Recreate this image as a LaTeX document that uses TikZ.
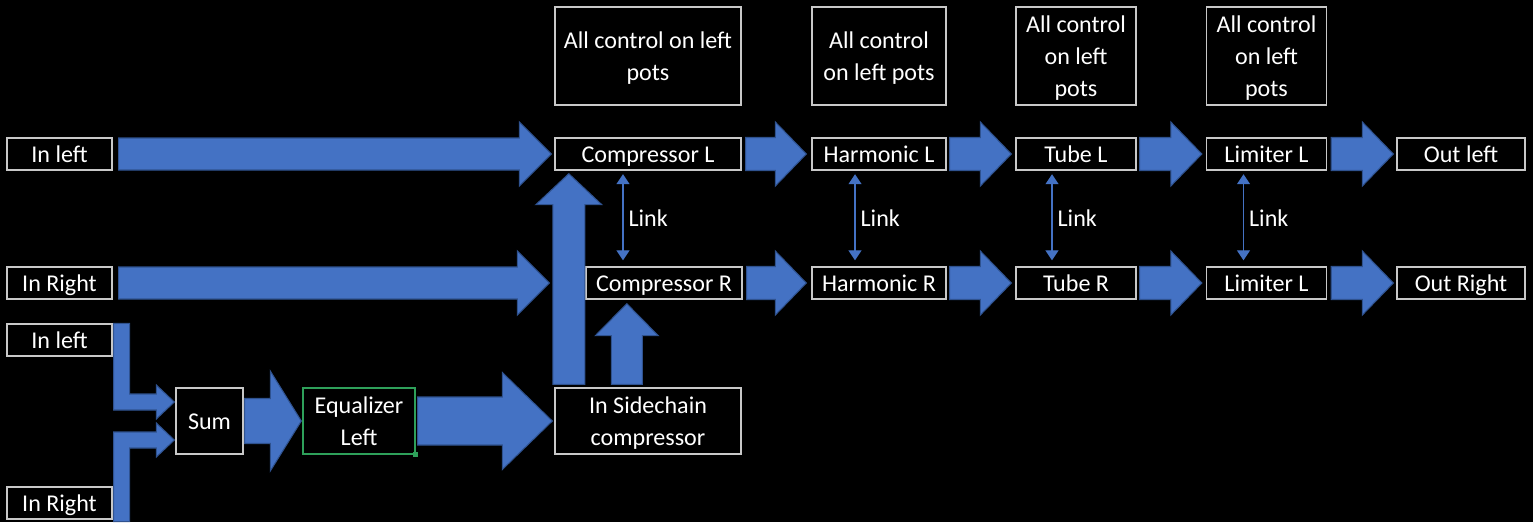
\documentclass[tikz,border=0pt]{standalone}
\usepackage{fontspec}
\setmainfont{Carlito}
\usepackage{tikz}
\usetikzlibrary{arrows.meta,calc}

\definecolor{arrowblue}{RGB}{68,114,196}
\definecolor{arrowedge}{RGB}{47,82,143}
\definecolor{boxgray}{RGB}{200,200,200}
\definecolor{eqgreen}{RGB}{46,160,90}

% line struts, so text sits as in the slide
\newcommand{\topstrut}{\vrule width 0pt height 14.1pt\relax}

\tikzset{
  box/.style={draw=boxgray, line width=0.8pt, fill=black, text=white,
    minimum height=0.64cm, inner sep=0pt, align=center,
    font=\fontsize{13.7pt}{18.2pt}\selectfont,
    execute at begin node={\vrule width 0pt height 13.9pt\relax},
    execute at end node={\vrule width 0pt depth 4.3pt\relax}},
  blockarrow/.style={fill=arrowblue, draw=arrowedge, line width=0.6pt},
  link/.style={draw=arrowblue, line width=0.7pt,
    {Triangle[width=0.26cm,length=0.2cm]}-{Triangle[width=0.26cm,length=0.2cm]},
    shorten <=0.07cm, shorten >=0.12cm},
  linktext/.style={text=white, inner sep=0.1cm,
    font=\fontsize{13.7pt}{18.2pt}\selectfont}
}

% block arrow to the right: start, tip, shaft half, head half, head length
\newcommand{\blockright}[5]{%
  \path[blockarrow] let \p1=#1, \p2=#2 in
    (\x1,\y1+#3) -- (\x2-#5,\y1+#3) -- (\x2-#5,\y1+#4) -- (\x2,\y1)
    -- (\x2-#5,\y1-#4) -- (\x2-#5,\y1-#3) -- (\x1,\y1-#3) -- cycle;}
% block arrow upwards: start, tip, shaft half, head half, head length
\newcommand{\blockup}[5]{%
  \path[blockarrow] let \p1=#1, \p2=#2 in
    (\x1-#3,\y1) -- (\x1-#3,\y2-#5) -- (\x1-#4,\y2-#5) -- (\x1,\y2)
    -- (\x1+#4,\y2-#5) -- (\x1+#3,\y2-#5) -- (\x1+#3,\y1) -- cycle;}

\begin{document}
\begin{tikzpicture}
\fill[black] (0,0) rectangle (30.66cm,-10.44cm);
\useasboundingbox (0,0) rectangle (30.66cm,-10.44cm);

% inputs
\draw (1.19cm,-3.08cm)  node (inL)  [box, minimum width=2.1cm] {In left};
\draw (1.19cm,-5.66cm)  node (inR)  [box, minimum width=2.1cm] {In Right};
\draw (1.19cm,-6.80cm)  node (inL2) [box, minimum width=2.1cm] {In left};
\draw (1.19cm,-10.06cm) node (inR2) [box, minimum width=2.1cm] {In Right};

% sidechain path
\draw (4.19cm,-8.42cm)  node (sum)  [box, minimum width=1.34cm, minimum height=1.32cm] {Sum};
\draw (7.18cm,-8.42cm)  node (eq)   [box, draw=eqgreen, minimum width=2.24cm, minimum height=1.32cm] {\topstrut Equalizer\\Left};
\fill[eqgreen] ([shift={(-0.05,-0.05)}]eq.south east) rectangle ++(0.1,0.1);
\draw (12.96cm,-8.42cm) node (side) [box, minimum width=3.72cm, minimum height=1.32cm] {\topstrut In Sidechain\\compressor};

% control notes
\draw (12.96cm,-1.12cm) node (ctl1) [box, minimum width=3.72cm, minimum height=1.96cm] {\topstrut All control on left\\pots};
\draw (17.58cm,-1.12cm) node (ctl2) [box, minimum width=2.68cm, minimum height=1.96cm] {\topstrut All control\\on left pots};
\draw (21.52cm,-1.12cm) node (ctl3) [box, minimum width=2.4cm, minimum height=1.96cm] {\topstrut All control\\on left\\pots};
\draw (25.33cm,-1.12cm) node (ctl4) [box, minimum width=2.4cm, minimum height=1.96cm] {\topstrut All control\\on left\\pots};

% left chain
\draw (12.96cm,-3.08cm) node (compL) [box, minimum width=3.72cm] {Compressor L};
\draw (17.58cm,-3.08cm) node (harmL) [box, minimum width=2.68cm] {Harmonic L};
\draw (21.52cm,-3.08cm) node (tubeL) [box, minimum width=2.4cm] {Tube L};
\draw (25.33cm,-3.08cm) node (limL)  [box, minimum width=2.4cm] {Limiter L};
\draw (29.22cm,-3.08cm) node (outL)  [box, minimum width=2.56cm] {Out left};

% right chain
\draw (13.28cm,-5.66cm) node (compR) [box, minimum width=3.12cm] {Compressor R};
\draw (17.58cm,-5.66cm) node (harmR) [box, minimum width=2.68cm] {Harmonic R};
\draw (21.52cm,-5.66cm) node (tubeR) [box, minimum width=2.4cm] {Tube R};
\draw (25.33cm,-5.66cm) node (limR)  [box, minimum width=2.4cm] {Limiter L};
\draw (29.22cm,-5.66cm) node (outR)  [box, minimum width=2.56cm] {Out Right};

% links
\coordinate (lk1) at ([xshift=-0.5cm]compL.south);
\coordinate (lk2) at ([xshift=-0.48cm]harmL.south);
\coordinate (lk3) at ([xshift=-0.48cm]tubeL.south);
\coordinate (lk4) at ([xshift=-0.46cm]limL.south);
\draw[link] (lk1) -- (lk1 |- compR.north) node[linktext, midway, right] {Link};
\draw[link] (lk2) -- (lk2 |- harmR.north) node[linktext, midway, right] {Link};
\draw[link] (lk3) -- (lk3 |- tubeR.north) node[linktext, midway, right] {Link};
\draw[link] (lk4) -- (lk4 |- limR.north) node[linktext, midway, right] {Link};

% inputs into compressors
\blockright{([xshift=0.12cm]inL.east)}{([xshift=-0.06cm]compL.west)}{0.32cm}{0.64cm}{0.64cm}
\blockright{([xshift=0.12cm]inR.east)}{([xshift=-0.1cm]compL.west)}{0.32cm}{0.64cm}{0.64cm}

% chain arrows
\blockright{([xshift=0.08cm]compL.east)}{([xshift=-0.1cm]harmL.west)}{0.33cm}{0.64cm}{0.62cm}
\blockright{([xshift=0.08cm]compR.east)}{([xshift=-0.1cm]harmR.west)}{0.33cm}{0.64cm}{0.62cm}
\blockright{([xshift=0.06cm]harmL.east)}{([xshift=-0.08cm]tubeL.west)}{0.33cm}{0.64cm}{0.62cm}
\blockright{([xshift=0.06cm]harmR.east)}{([xshift=-0.08cm]tubeR.west)}{0.33cm}{0.64cm}{0.62cm}
\blockright{([xshift=0.06cm]tubeL.east)}{([xshift=-0.08cm]limL.west)}{0.33cm}{0.64cm}{0.62cm}
\blockright{([xshift=0.06cm]tubeR.east)}{([xshift=-0.08cm]limR.west)}{0.33cm}{0.64cm}{0.62cm}
\blockright{([xshift=0.08cm]limL.east)}{([xshift=-0.06cm]outL.west)}{0.33cm}{0.64cm}{0.62cm}
\blockright{([xshift=0.08cm]limR.east)}{([xshift=-0.06cm]outR.west)}{0.33cm}{0.64cm}{0.62cm}

% sidechain arrows
\blockright{([xshift=0.02cm]sum.east)}{([xshift=-0.02cm]eq.west)}{0.45cm}{1.0cm}{0.62cm}
\blockright{([xshift=0.04cm]eq.east)}{([xshift=-0.04cm]side.west)}{0.48cm}{0.97cm}{1.0cm}
\blockup{([shift={(0.29cm,0.06cm)}]side.north west)}{([yshift=-0.06cm]compL.south)}{0.32cm}{0.66cm}{0.62cm}
\blockup{([shift={(1.45cm,0.06cm)}]side.north west)}{([yshift=-0.08cm]compR.south)}{0.31cm}{0.63cm}{0.64cm}

% elbows into sum
\path[blockarrow] let \p1=(inL2.north east), \p2=([shift={(-0.02cm,0.38cm)}]sum.west) in
  (\x1+0.02cm,\y1) -- (\x1+0.34cm,\y1) -- (\x1+0.34cm,\y2+0.16cm) -- (\x2-0.36cm,\y2+0.16cm)
  -- (\x2-0.36cm,\y2+0.34cm) -- (\x2,\y2) -- (\x2-0.36cm,\y2-0.34cm) -- (\x2-0.36cm,\y2-0.16cm)
  -- (\x1+0.02cm,\y2-0.16cm) -- cycle;
\path[blockarrow] let \p1=(inR2.south east), \p2=([shift={(-0.02cm,-0.38cm)}]sum.west) in
  (\x1+0.02cm,\y1-0.04cm) -- (\x1+0.02cm,\y2+0.16cm) -- (\x2-0.36cm,\y2+0.16cm)
  -- (\x2-0.36cm,\y2+0.34cm) -- (\x2,\y2) -- (\x2-0.36cm,\y2-0.34cm) -- (\x2-0.36cm,\y2-0.16cm)
  -- (\x1+0.34cm,\y2-0.16cm) -- (\x1+0.34cm,\y1-0.04cm) -- cycle;
\end{tikzpicture}
\end{document}
